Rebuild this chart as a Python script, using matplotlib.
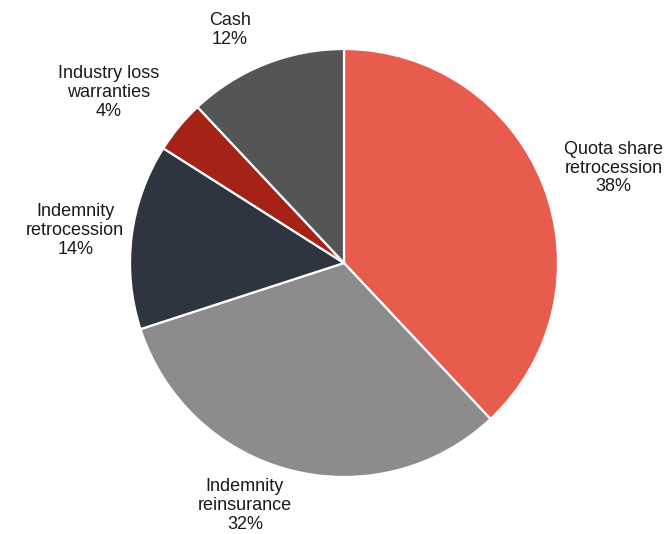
import numpy as np
import matplotlib.pyplot as plt

# Portfolio split (percent)
labels = ['Quota share\nretrocession', 'Indemnity\nreinsurance', 'Indemnity\nretrocession',
          'Industry loss\nwarranties', 'Cash']
shares = [38, 32, 14, 4, 12]
colors = ['#E85C4D', '#8C8C8C', '#2E3440', '#A52217', '#555555']

# label placement: radial distance factor and angle tweak (deg) per wedge
label_dist = [1.336, 1.225, 1.265, 1.36, 1.21]
label_dang = [-2.2, -7.8, 0.4, 3.7, 4.5]

plt.rcParams['font.family'] = ['Liberation Sans', 'DejaVu Sans']

fig = plt.figure(figsize=(6.69, 5.34), dpi=100)
ax = fig.add_axes([0, 0, 1, 1])

R = 214.0
cx, cy = 344.0, 263.0
W, H = 669.0, 534.0

wedges, _ = ax.pie(shares, colors=colors, startangle=90, counterclock=False,
                   radius=1.0, wedgeprops=dict(edgecolor='white', linewidth=1.6))

for w, lab, s, d, da in zip(wedges, labels, shares, label_dist, label_dang):
    ang = np.deg2rad((w.theta1 + w.theta2) / 2 + da)
    ax.text(d * np.cos(ang), d * np.sin(ang), f'{lab}\n{s}%', ha='center', va='center',
            fontsize=13, color='#1a1a1a', linespacing=1.15)

ax.set_aspect('auto')
ax.set_xlim(-cx / R, (W - cx) / R)
ax.set_ylim(-(H - cy) / R, cy / R)
ax.axis('off')

fig.savefig('out.png', dpi=100)
